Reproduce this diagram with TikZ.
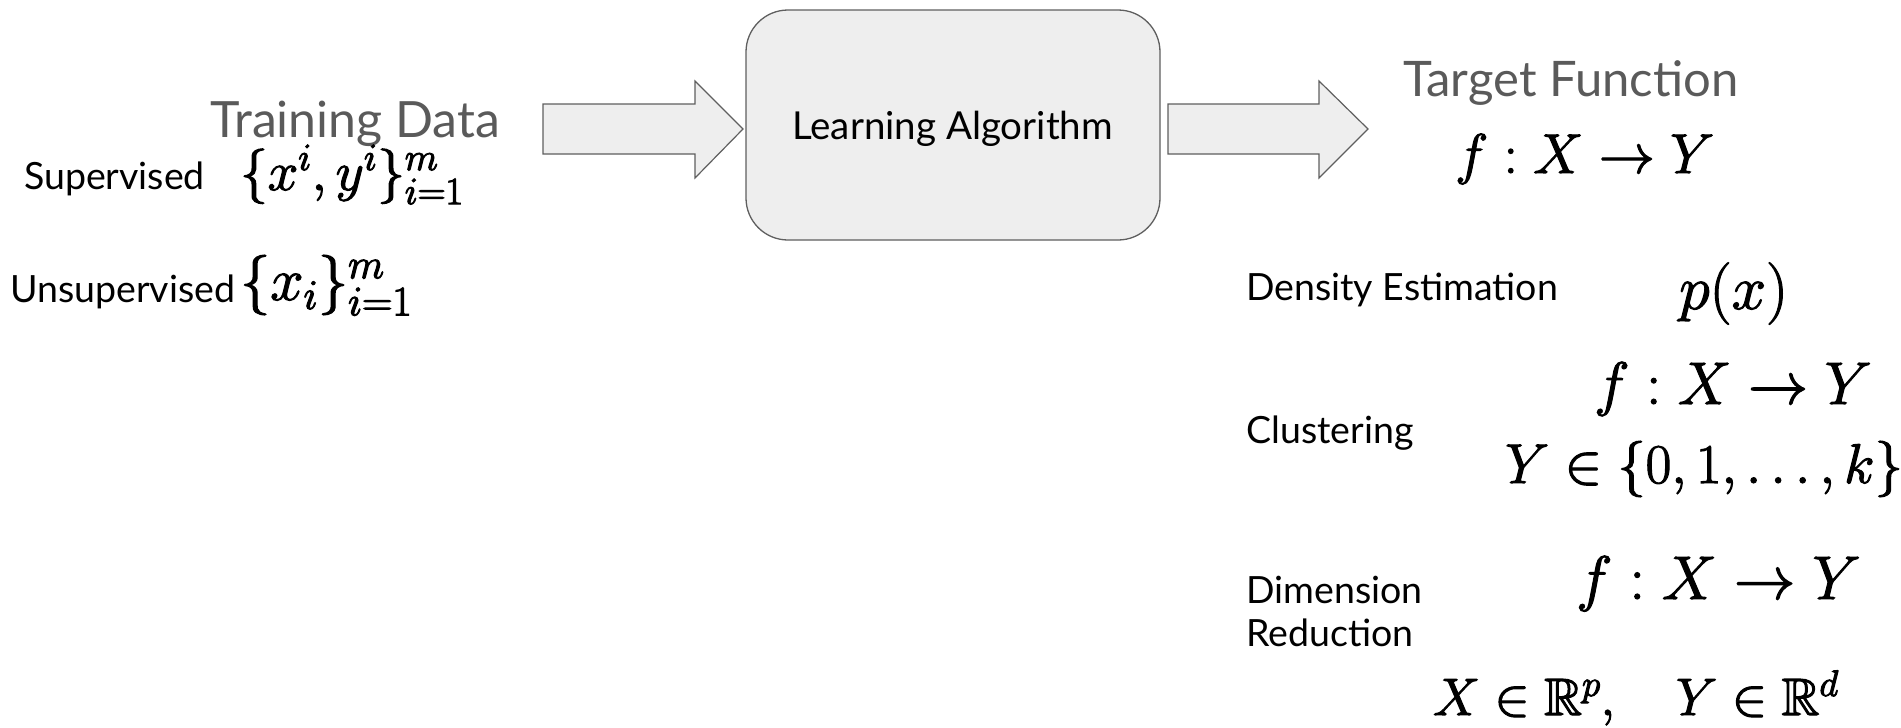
\RequirePackage{fix-cm}
\documentclass[tikz,border=0pt]{standalone}
\usepackage{amsmath,amssymb}
\usepackage{fontspec}
\setmainfont{Lato}
\definecolor{panelfill}{HTML}{EEEEEE}
\definecolor{panelline}{HTML}{5F5F5F}
\definecolor{titlegrey}{HTML}{5A5A5A}
\newcommand{\heavymath}[1]{\special{pdf:literal 2 Tr 1.1 w}#1\special{pdf:literal 0 Tr}}
\tikzset{
  lbl/.style={anchor=base west, inner sep=0pt, font=\fontsize{37.5}{40}\selectfont},
  ttl/.style={anchor=base west, inner sep=0pt, text=titlegrey, font=\fontsize{50}{55}\selectfont},
  mth/.style={anchor=base west, inner sep=0pt, font=\fontsize{56}{60}\selectfont},
  blockarrow/.style={fill=panelfill, draw=panelline, line width=1.2pt, line join=miter},
}
\begin{document}
\begin{tikzpicture}[x=1pt,y=-1pt]
\useasboundingbox (0,0) rectangle (1901,728);
% learning algorithm box
\draw[fill=panelfill, draw=panelline, line width=1.3pt, rounded corners=42pt] (746,10) rectangle (1160,240);
\node[lbl, font=\fontsize{38.5}{40}\selectfont] (alg) at (792,139) {Learning Algorithm};
% block arrows
\draw[blockarrow] (543,104) -- (695,104) -- (695,81) -- (743,129) -- (695,178) -- (695,154) -- (543,154) -- cycle;
\draw[blockarrow] (1168,104) -- (1319,104) -- (1319,81) -- (1368,129) -- (1319,178) -- (1319,154) -- (1168,154) -- cycle;
% training data
\node[ttl] (train) at (210,137) {Training Data};
\node[lbl] (sup) at (24,189) {Supervised};
\node[mth, font=\fontsize{55}{58}\selectfont] (supm) at (240,190) {\heavymath{$\{x^i, y^i\}_{i=1}^m$}};
\node[lbl] (uns) at (10,302) {Unsupervised};
\node[mth, font=\fontsize{60}{62}\selectfont] (unsm) at (240,300) {\heavymath{$\{x_i\}_{i=1}^m$}};
% target function
\node[ttl, font=\fontsize{49}{55}\selectfont] (target) at (1403,96) {Target Function};
\node[mth, font=\fontsize{56}{60}\selectfont] (targetm) at (1455,173) {\heavymath{$f: X \to Y$}};
% density estimation
\node[lbl] (dens) at (1246,300) {Density Estimation};
\node[mth, font=\fontsize{62}{64}\selectfont] (densm) at (1679,309) {\heavymath{$p(x)$}};
% clustering
\node[lbl] (clus) at (1246,443) {Clustering};
\node[mth, font=\fontsize{60}{64}\selectfont] (clusm1) at (1594,404) {\heavymath{$f: X \to Y$}};
\node[mth] (clusm2) at (1505,483) {\heavymath{$Y \in \{0, 1, \ldots, k\}$}};
% dimension reduction
\node[lbl] (dim1) at (1246,603) {Dimension};
\node[lbl] (dim2) at (1246,646) {Reduction};
\node[mth, font=\fontsize{61.5}{64}\selectfont] (dimm1) at (1576,599) {\heavymath{$f: X \to Y$}};
\node[mth, font=\fontsize{52.5}{56}\selectfont] (dimm2) at (1433,715) {\heavymath{$X \in \mathbb{R}^p, \quad Y \in \mathbb{R}^d$}};
\end{tikzpicture}
\end{document}
